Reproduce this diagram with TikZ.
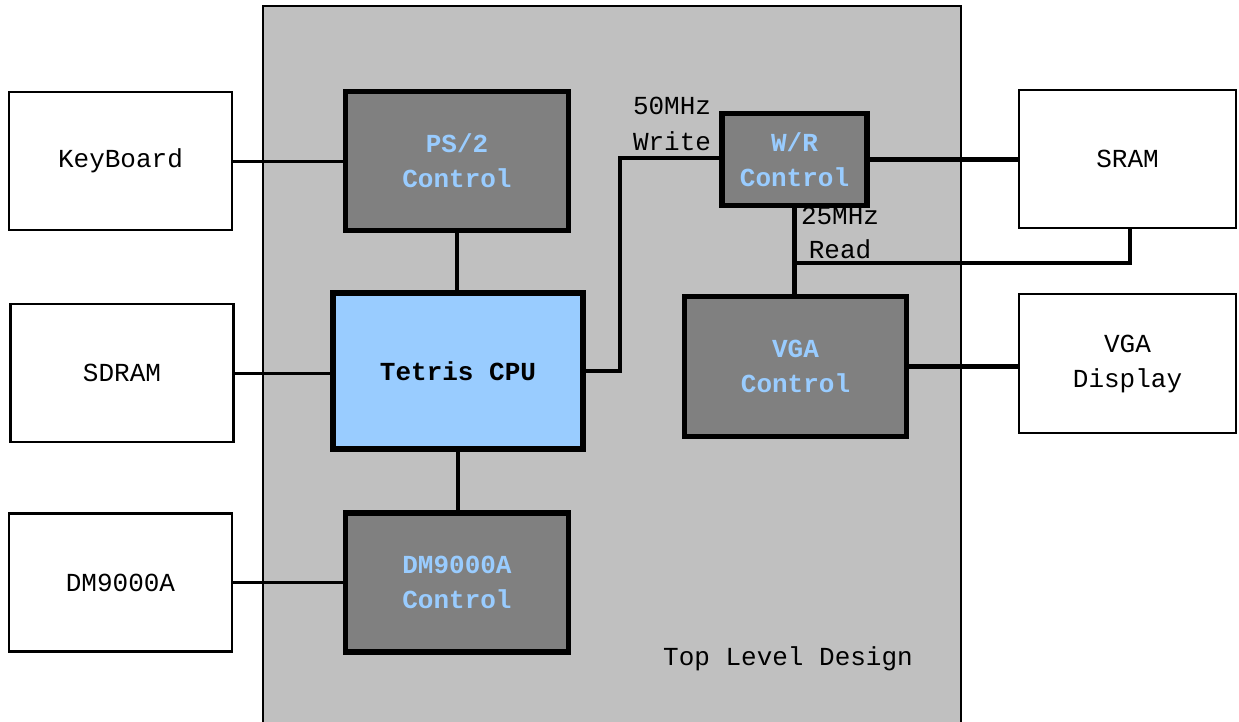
\documentclass[tikz,border=0pt]{standalone}
\usepackage{fontspec}
\setmainfont{Liberation Mono}
\definecolor{bggray}{HTML}{C0C0C0}
\definecolor{ctrlgray}{HTML}{808080}
\definecolor{ltblue}{HTML}{99CCFF}
\begin{document}
\begin{tikzpicture}[x=1pt,y=-1pt,
  extbox/.style={draw=black,fill=white,line width=2.5pt,minimum width=223pt,minimum height=138pt,inner sep=0pt,outer sep=0pt,font=\fontsize{26}{35}\selectfont,align=center},
  ctrlbox/.style={draw=black,fill=ctrlgray,line width=5.5pt,inner sep=0pt,outer sep=0pt,text=ltblue,font=\fontsize{26}{35}\selectfont\bfseries,align=center},
  cpubox/.style={draw=black,fill=ltblue,line width=6pt,inner sep=0pt,outer sep=0pt,font=\fontsize{26}{35}\selectfont\bfseries,align=center},
  thinline/.style={line width=3pt},
  thickline/.style={line width=4.5pt},
  lbl/.style={font=\fontsize{26}{35}\selectfont,inner sep=0pt,align=center}]
\useasboundingbox (0,0) rectangle (1239,721);
\fill[white] (0,0) rectangle (1239,721);
\draw[fill=bggray,line width=1.5pt] (263,740) -- (263,6) -- (961,6) -- (961,740);
% external boxes
\node[extbox] (kb) at (120.5,161) {KeyBoard};
\node[extbox] (sdram) at (122,373) {SDRAM};
\node[extbox] (dm) at (120.5,582.5) {DM9000A};
\node[extbox,minimum width=217pt] (sram) at (1127.5,159) {SRAM};
\node[extbox,minimum width=217pt,minimum height=139pt] (disp) at (1127.5,363.5) {VGA\\Display};
% control boxes
\node[ctrlbox,minimum width=223pt,minimum height=139pt] (ps2) at (457,161) {PS/2\\Control};
\node[cpubox,minimum width=250pt,minimum height=156pt] (cpu) at (458,371) {Tetris CPU};
\node[ctrlbox,minimum width=223pt,minimum height=139pt] (dmc) at (457,582.5) {DM9000A\\Control};
\node[ctrlbox,minimum width=145pt,minimum height=92pt] (wr) at (794.5,159.5) {W/R\\Control};
\node[ctrlbox,minimum width=222pt,minimum height=140pt] (vgac) at (795.5,366.5) {VGA\\Control};
% connectors
\draw[thinline] (kb.east) -- (kb.east -| ps2.west);
\draw[thinline] (sdram.east) -- (sdram.east -| cpu.west);
\draw[thinline] (dm.east) -- (dm.east -| dmc.west);
\draw[thickline] (ps2.south) -- (ps2.south |- cpu.north);
\draw[thickline] (cpu.south) -- (cpu.south |- dmc.north);
\coordinate (bend) at (620,158);
\draw[thickline] (cpu.east) -| (bend) -- (bend -| wr.west);
\draw[thickline] (wr.east) -- (wr.east -| sram.west);
\draw[thickline] (wr.south) -- (wr.south |- vgac.north);
\coordinate (rj) at (795,263);
\coordinate (sramdown) at (1130,228);
\draw[thickline] (rj) -| (sramdown);
\draw[thickline] (vgac.east) -- (vgac.east -| disp.west);
% labels
\node[lbl] (l50) at (672,106) {50MHz};
\node[lbl] (lw) at (672,141) {Write};
\node[lbl] (l25) at (840,216) {25MHz};
\node[lbl] (lr) at (840,249) {Read};
\node[lbl] (top) at (788,659) {Top Level Design};
\end{tikzpicture}
\end{document}
